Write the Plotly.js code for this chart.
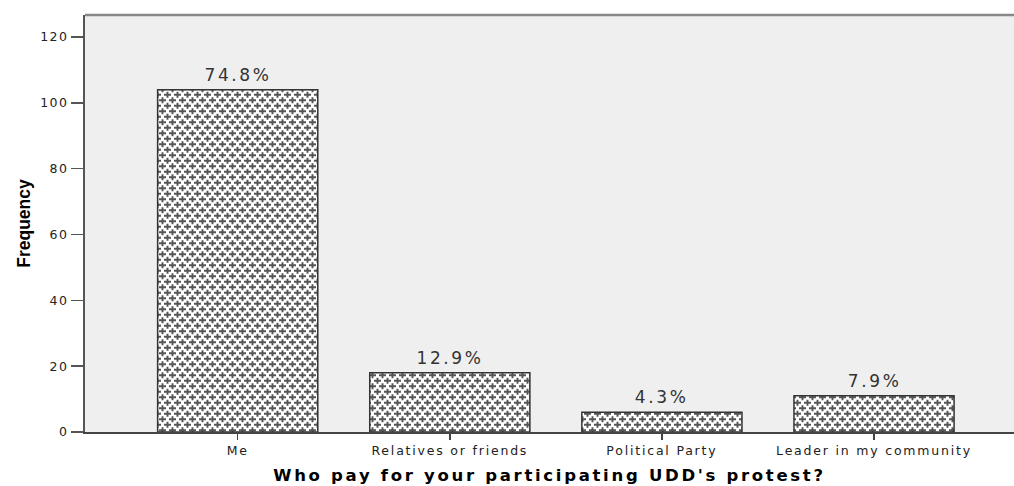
<!DOCTYPE html>
<html>
<head>
<meta charset="utf-8">
<script src="https://cdn.plot.ly/plotly-3.0.1.min.js"></script>
<style>
html,body{margin:0;padding:0;background:#fff;}
#chart{width:1014px;height:486px;}
#chart .xtick text{letter-spacing:1.8px;}
#chart .ytick text{letter-spacing:1.5px;}
#chart .g-xtitle text{letter-spacing:2.7px;}
#chart .annotation-text{letter-spacing:2.6px;}
</style>
</head>
<body>
<div id="chart"></div>
<script>
const categories = ["Me", "Relatives or friends", "Political Party", "Leader in my community"];
const frequencies = [104, 18, 6, 11];
const percentLabels = ["74.8%", "12.9%", "4.3%", "7.9%"];
const yTicks = [0, 20, 40, 60, 80, 100, 120];

const trace = {
  type: "bar",
  x: categories,
  y: frequencies,
  width: 0.755,
  marker: {
    color: "#ffffff",
    line: {color: "#333333", width: 1.5},
    pattern: {shape: "+", fgcolor: "#444444", bgcolor: "#ffffff", size: 10, solidity: 0.3}
  },
  hoverinfo: "none"
};

const annotations = categories.map((c, i) => ({
  x: c, y: frequencies[i], xref: "x", yref: "y",
  text: percentLabels[i], showarrow: false,
  yanchor: "bottom", yshift: 3,
  font: {family: "DejaVu Sans, Verdana, sans-serif", size: 17, color: "#333"}
}));

const layout = {
  width: 1014, height: 486,
  margin: {l: 85, r: 0, t: 15, b: 54},
  paper_bgcolor: "#ffffff",
  plot_bgcolor: "#efefef",
  showlegend: false,
  annotations: annotations,
  xaxis: {
    type: "category",
    range: [-0.72, 3.66],
    showline: true, linecolor: "#444", linewidth: 2,
    ticks: "outside", ticklen: 6, tickwidth: 1.5, tickcolor: "#444",
    tickfont: {family: "DejaVu Sans, Verdana, sans-serif", size: 12.5, color: "#222"},
    showgrid: false, zeroline: false,
    title: {text: "<b>Who pay for your participating UDD's protest?</b>", font: {family: "DejaVu Sans, Verdana, sans-serif", size: 16.5, color: "#000"}, standoff: 12}
  },
  yaxis: {
    range: [0, 126.7],
    tickvals: yTicks,
    showline: true, linecolor: "#555", linewidth: 2,
    ticks: "outside", ticklen: 12, tickwidth: 1.5, tickcolor: "#555",
    tickfont: {family: "DejaVu Sans, Verdana, sans-serif", size: 12.5, color: "#222"},
    showgrid: false, zeroline: false,
    title: {text: "<b>Frequency</b>", font: {family: "Liberation Sans, Arial, sans-serif", size: 17.5, color: "#000"}, standoff: 10}
  },
  shapes: [{type: "line", xref: "paper", yref: "paper", x0: 0, x1: 1, y0: 1, y1: 1, line: {color: "#888", width: 2.5}}]
};

function crossPattern(gd) {
  const NS = "http://www.w3.org/2000/svg";
  gd.querySelectorAll("pattern").forEach(p => {
    const W = 10, H = 11;
    p.setAttribute("width", W);
    p.setAttribute("height", H);
    p.removeAttribute("patternTransform");
    while (p.firstChild) p.removeChild(p.firstChild);
    const bg = document.createElementNS(NS, "rect");
    bg.setAttribute("width", W); bg.setAttribute("height", H); bg.setAttribute("fill", "#ffffff");
    p.appendChild(bg);
    const path = document.createElementNS(NS, "path");
    const cross = (cx, cy) => `M${cx - 3.5},${cy}H${cx + 3.5}M${cx},${cy - 3}V${cy + 3}`;
    path.setAttribute("d", cross(2.5, 2.75) + cross(7.5, 8.25) + cross(-2.5, 8.25) + cross(12.5, 2.75) + cross(7.5, -2.75) + cross(2.5, 13.75));
    path.setAttribute("stroke", "#555555");
    path.setAttribute("stroke-width", "1.9");
    path.setAttribute("fill", "none");
    p.appendChild(path);
  });
}

Plotly.newPlot("chart", [trace], layout, {staticPlot: true, displayModeBar: false}).then(crossPattern);
</script>
</body>
</html>
